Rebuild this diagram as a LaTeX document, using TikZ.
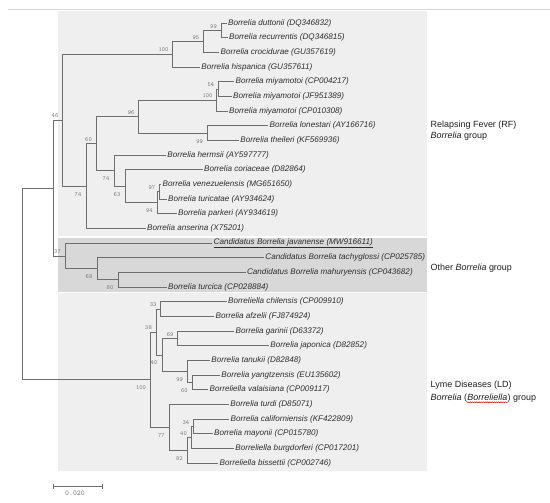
\documentclass[tikz,border=0pt]{standalone}
\usepackage{fontspec}
\setmainfont{Liberation Sans}
\usepackage{tikz}
\usetikzlibrary{positioning,arrows.meta,decorations.pathmorphing}
\definecolor{boxlight}{RGB}{239,239,239}
\definecolor{boxdark}{RGB}{216,216,216}
\definecolor{treegray}{RGB}{110,110,110}
\definecolor{leafgray}{RGB}{45,45,45}
\definecolor{bsgray}{RGB}{120,120,120}
\definecolor{rulegray}{RGB}{215,215,215}

\begin{document}
\begin{tikzpicture}[x=1bp,y=-1bp,
  branch/.style={draw=treegray,line width=0.8bp},
  leaf/.style={anchor=west,inner sep=1.2bp,text=leafgray,font=\fontsize{8.15}{9}\selectfont\itshape},
  bsup/.style={anchor=south east,inner sep=0pt,xshift=-4bp,yshift=2bp,text=bsgray,font=\fontsize{6.2}{7}\selectfont\ttfamily},
  bsdown/.style={anchor=north east,inner sep=0pt,xshift=-4.5bp,yshift=-6bp,text=bsgray,font=\fontsize{6.2}{7}\selectfont\ttfamily},
  grp/.style={anchor=base west,inner sep=0pt,text=black!88,font=\fontsize{9}{11}\selectfont}]
\useasboundingbox (0,0) rectangle (550,503);
\draw[rulegray,line width=0.6bp] (8,9) -- (550,9);
% group boxes
\fill[boxlight] (58,11) rectangle (427,236);
\fill[boxdark] (58,237.5) rectangle (427,292);
\fill[boxlight] (58,293) rectangle (427,471);

% leaves
\node[leaf] (l1) at (226.7,23.0) {Borrelia duttonii (DQ346832)};
\node[leaf] (l2) at (227.7,37.7) {Borrelia recurrentis (DQ346815)};
\node[leaf] (l3) at (219.3,52.3) {Borrelia crocidurae (GU357619)};
\node[leaf] (l4) at (200.0,67.0) {Borrelia hispanica (GU357611)};
\node[leaf] (l5) at (234.3,81.7) {Borrelia miyamotoi (CP004217)};
\node[leaf] (l6) at (231.7,96.3) {Borrelia miyamotoi (JF951389)};
\node[leaf] (l7) at (227.7,111.0) {Borrelia miyamotoi (CP010308)};
\node[leaf] (l8) at (268.3,125.7) {Borrelia lonestari (AY166716)};
\node[leaf] (l9) at (239.0,140.4) {Borrelia theileri (KF569936)};
\node[leaf] (l10) at (166.0,155.0) {Borrelia hermsii (AY597777)};
\node[leaf] (l11) at (202.7,169.7) {Borrelia coriaceae (D82864)};
\node[leaf] (l12) at (161.3,184.4) {Borrelia venezuelensis (MG651650)};
\node[leaf] (l13) at (166.7,199.0) {Borrelia turicatae (AY934624)};
\node[leaf] (l14) at (176.7,213.7) {Borrelia parkeri (AY934619)};
\node[leaf] (l15) at (145.7,228.4) {Borrelia anserina (X75201)};
\node[leaf] (l16) at (212.3,243.0) {\underline{Candidatus Borrelia javanense (MW916611)}};
\node[leaf] (l17) at (264.0,257.7) {Candidatus Borrelia tachyglossi (CP025785)};
\node[leaf] (l18) at (245.7,272.4) {Candidatus Borrelia mahuryensis (CP043682)};
\node[leaf] (l19) at (166.7,287.1) {Borrelia turcica (CP028884)};
\node[leaf] (l20) at (226.7,301.7) {Borreliella chilensis (CP009910)};
\node[leaf] (l21) at (214.3,316.4) {Borrelia afzelii (FJ874924)};
\node[leaf] (l22) at (234.3,331.1) {Borrelia garinii (D63372)};
\node[leaf] (l23) at (269.0,345.8) {Borrelia japonica (D82852)};
\node[leaf] (l24) at (210.0,360.4) {Borrelia tanukii (D82848)};
\node[leaf] (l25) at (220.0,375.1) {Borrelia yangtzensis (EU135602)};
\node[leaf] (l26) at (208.3,389.8) {Borreliella valaisiana (CP009117)};
\node[leaf] (l27) at (229.0,404.4) {Borrelia turdi (D85071)};
\node[leaf] (l28) at (229.3,419.1) {Borrelia californiensis (KF422809)};
\node[leaf] (l29) at (212.7,433.8) {Borrelia mayonii (CP015780)};
\node[leaf] (l30) at (234.0,448.5) {Borreliella burgdorferi (CP017201)};
\node[leaf] (l31) at (218.3,463.1) {Borreliella bissettii (CP002746)};

% inner nodes
\coordinate (n99a) at (221.0,30.4);
\coordinate (n95) at (203.3,41.3);
\coordinate (n100a) at (172.7,54.2);
\coordinate (n54) at (218.3,89.0);
\coordinate (n100b) at (216.7,100.0);
\coordinate (n99b) at (207.7,133.0);
\coordinate (n96) at (138.7,116.5);
\coordinate (n97) at (159.3,191.7);
\coordinate (n94) at (157.3,202.7);
\coordinate (n63) at (125.0,186.2);
\coordinate (n74a) at (114.0,170.6);
\coordinate (n60a) at (96.0,143.6);
\coordinate (n74b) at (86.0,186.0);
\coordinate (n46) at (62.5,120.1);
\coordinate (n80) at (118.0,279.7);
\coordinate (n68) at (97.0,268.7);
\coordinate (n37) at (65.0,255.9);
\coordinate (nrb) at (53.5,188.0);
\coordinate (n33) at (160.7,309.0);
\coordinate (n69) at (177.7,338.4);
\coordinate (n60b) at (192.3,382.4);
\coordinate (n99c) at (187.7,371.4);
\coordinate (n40a) at (162.0,354.9);
\coordinate (n38) at (156.0,332.0);
\coordinate (n34) at (193.3,426.4);
\coordinate (n40b) at (191.0,437.5);
\coordinate (n82) at (187.3,450.3);
\coordinate (n77) at (169.3,427.4);
\coordinate (n100c) at (150.7,379.7);
\coordinate (root) at (22.0,283.9);

% branches
\draw[branch] (n99a) |- (l1.west) (n99a) |- (l2.west)
  (n95) |- (n99a) (n95) |- (l3.west)
  (n100a) |- (n95) (n100a) |- (l4.west)
  (n54) |- (l5.west) (n54) |- (l6.west)
  (n100b) |- (n54) (n100b) |- (l7.west)
  (n99b) |- (l8.west) (n99b) |- (l9.west)
  (n96) |- (n100b) (n96) |- (n99b)
  (n97) |- (l12.west) (n97) |- (l13.west)
  (n94) |- (n97) (n94) |- (l14.west)
  (n63) |- (l11.west) (n63) |- (n94)
  (n74a) |- (l10.west) (n74a) |- (n63)
  (n60a) |- (n96) (n60a) |- (n74a)
  (n74b) |- (n60a) (n74b) |- (l15.west)
  (n46) |- (n100a) (n46) |- (n74b);
\draw[branch] (n80) |- (l18.west) (n80) |- (l19.west)
  (n68) |- (l17.west) (n68) |- (n80)
  (n37) |- (l16.west) (n37) |- (n68)
  (nrb) |- (n46) (nrb) |- (n37);
\draw[branch] (n33) |- (l20.west) (n33) |- (l21.west)
  (n69) |- (l22.west) (n69) |- (l23.west)
  (n60b) |- (l25.west) (n60b) |- (l26.west)
  (n99c) |- (l24.west) (n99c) |- (n60b)
  (n40a) |- (n69) (n40a) |- (n99c)
  (n38) |- (n33) (n38) |- (n40a)
  (n34) |- (l28.west) (n34) |- (l29.west)
  (n40b) |- (n34) (n40b) |- (l30.west)
  (n82) |- (n40b) (n82) |- (l31.west)
  (n77) |- (l27.west) (n77) |- (n82)
  (n100c) |- (n38) (n100c) |- (n77);
\draw[branch] (root) |- (nrb) (root) |- (n100c);

% bootstrap values
\node[bsup] (b1) at (n99a) {99};
\node[bsup] (b2) at (n95) {95};
\node[bsup] (b3) at (n100a) {100};
\node[bsup] (b4) at (n54) {54};
\node[bsup] (b5) at (n100b) {100};
\node[bsup] (b6) at (n96) {96};
\node[bsdown] (b7) at (n99b) {99};
\node[bsup] (b8) at (n60a) {60};
\node[bsdown] (b9) at (n74a) {74};
\node[bsdown] (b10) at (n63) {63};
\node[bsup] (b11) at (n97) {97};
\node[bsdown] (b12) at (n94) {94};
\node[bsdown] (b13) at (n74b) {74};
\node[bsup] (b14) at (n46) {46};
\node[bsup] (b15) at (n37) {37};
\node[bsdown] (b16) at (n68) {68};
\node[bsdown] (b17) at (n80) {80};
\node[bsup] (b18) at (n33) {33};
\node[bsup] (b19) at (n38) {38};
\node[bsup] (b20) at (n69) {69};
\node[bsdown] (b21) at (n40a) {40};
\node[bsdown] (b22) at (n99c) {99};
\node[bsdown] (b23) at (n60b) {60};
\node[bsdown] (b24) at (n100c) {100};
\node[bsup] (b25) at (n34) {34};
\node[bsup] (b26) at (n40b) {40};
\node[bsdown] (b27) at (n82) {82};
\node[bsdown] (b28) at (n77) {77};

% group names
\node[grp] (rf1) at (430.5,127.5) {Relapsing Fever (RF)};
\node[grp] (rf2) at (430.5,138.5) {\textit{Borrelia} group};
\node[grp] (ot1) at (430.5,270.5) {Other \textit{Borrelia} group};
\node[grp] (ld1) at (430.5,387.5) {Lyme Diseases (LD)};
\node[grp] (ld2) at (430.5,400.5) {\textit{Borrelia} (};
\node[grp,base right=0pt of ld2] (ld3) {\textit{Borreliella}};
\node[grp,base right=0pt of ld3] (ld4) {) group};
\draw[red!85!black,line width=0.5bp,decorate,decoration={snake,amplitude=0.5bp,segment length=2.2bp}]
  ([yshift=-1.8bp]ld3.base west) -- ([yshift=-1.8bp]ld3.base east);

% scale bar
\coordinate (sb1) at (52.7,486);
\coordinate (sb2) at (102.3,486);
\draw[branch,{Bar[width=5bp]}-{Bar[width=5bp]}] (sb1) -- (sb2);
\node[text=bsgray,font=\fontsize{7.4}{8}\selectfont\ttfamily] (sbl) at (75,493.5) {0.020};
\end{tikzpicture}
\end{document}
